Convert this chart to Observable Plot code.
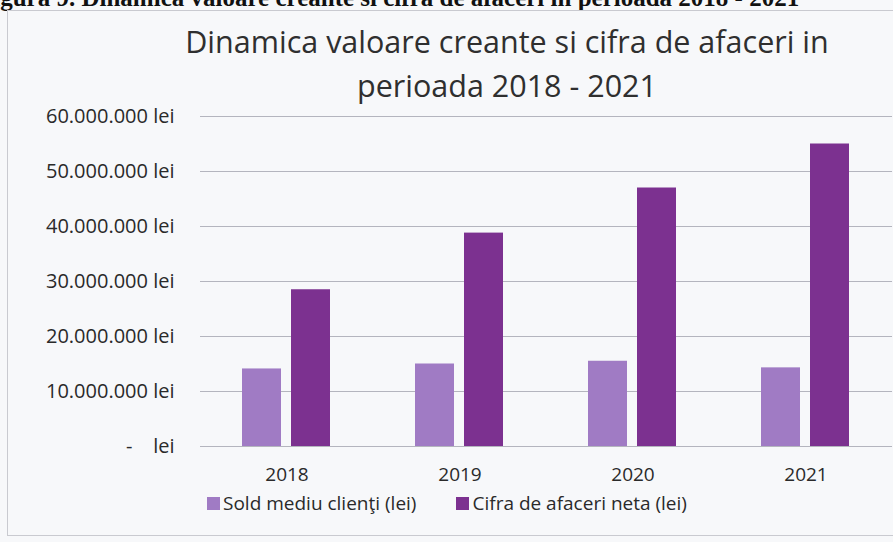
<!DOCTYPE html>
<html>
<head>
<meta charset="utf-8">
<script src="https://cdn.jsdelivr.net/npm/d3@7"></script>
<script src="https://cdn.jsdelivr.net/npm/@observablehq/plot@0.6"></script>
<style>
  html, body { margin: 0; padding: 0; background: #f7f8fa; }
  #wrap { position: relative; width: 893px; height: 542px; overflow: hidden; background: #f7f8fa; }
  #caption { position: absolute; left: -22px; top: -15px; font-family: "Liberation Serif", serif; font-weight: bold; font-size: 25px; line-height: 25px; color: #111; white-space: nowrap; }
  #frame { position: absolute; left: 7px; top: 10px; width: 920px; height: 526px; border: 1px solid #c9cad0; box-sizing: border-box; }
  #title { position: absolute; left: 507px; top: 19px; transform: translateX(-50%); font-family: "Open Sans", sans-serif; font-size: 30.5px; line-height: 44px; color: #2f2f2f; text-align: center; white-space: nowrap; }
  #chart { position: absolute; left: 0; top: 100px; }
  #legend { position: absolute; left: 207px; top: 490px; font-family: "Open Sans", sans-serif; font-size: 19px; color: #2a2a2a; display: flex; gap: 0; white-space: nowrap; }
  .item { display: flex; align-items: center; }
  .sw { width: 13px; height: 13px; display: inline-block; margin-right: 3px; }
</style>
</head>
<body>
<div id="wrap">
  <div id="caption"></div>
  <div id="frame"></div>
  <div id="title"></div>
  <div id="chart"></div>
  <div id="legend"></div>
</div>
<script>
const captionText = "Figura 9. Dinamica valoare creante si cifra de afaceri in perioada 2018 - 2021";
const titleLines = ["Dinamica valoare creante si cifra de afaceri in", "perioada 2018 - 2021"];
const years = ["2018", "2019", "2020", "2021"];
const seriesNames = ["Sold mediu clienţi (lei)", "Cifra de afaceri neta (lei)"];
const soldMediuClienti = [14100000, 15000000, 15500000, 14300000];
const cifraAfaceriNeta = [28500000, 38800000, 47000000, 55000000];
const yTicks = [0, 10000000, 20000000, 30000000, 40000000, 50000000, 60000000];
const seriesColors = ["#a07bc4", "#7c3190"];

document.getElementById("caption").textContent = captionText;
document.getElementById("title").innerHTML = titleLines.map(t => `<div>${t}</div>`).join("");

const data = [];
years.forEach((y, i) => {
  data.push({year: y, series: seriesNames[0], value: soldMediuClienti[i]});
  data.push({year: y, series: seriesNames[1], value: cifraAfaceriNeta[i]});
});

const fmt = d => d === 0 ? "-\u00a0\u00a0\u00a0\u00a0lei" : d3.format(",")(d).replace(/,/g, ".") + " lei";

const chart = Plot.plot({
  width: 893,
  height: 400,
  marginTop: 16,
  marginBottom: 54,
  marginLeft: 199,
  marginRight: 0,
  style: {fontFamily: "Open Sans", fontSize: "19px", color: "#2a2a2a", background: "transparent", overflow: "visible"},
  fx: {domain: years, padding: 0, axis: "bottom", tickSize: 0, tickPadding: 21, label: null},
  x: {domain: seriesNames, axis: null, paddingInner: 0.2, paddingOuter: 0.84},
  y: {domain: [0, 60000000], ticks: yTicks, tickFormat: fmt, tickSize: 0, tickPadding: 26, label: null},
  color: {domain: seriesNames, range: seriesColors},
  marks: [
    Plot.ruleY(yTicks, {stroke: "#b4b5be", strokeWidth: 1.2}),
    Plot.barY(data, {fx: "year", x: "series", y: "value", fill: "series"}),
    Plot.axisY({ticks: yTicks, tickFormat: fmt, tickSize: 0, tickPadding: 26, label: null, fontSize: 20})
  ]
});
document.getElementById("chart").appendChild(chart);

const legend = document.getElementById("legend");
seriesNames.forEach((name, i) => {
  const it = document.createElement("div");
  it.className = "item";
  it.style.marginRight = i === 0 ? "40px" : "0";
  it.innerHTML = `<span class="sw" style="background:${seriesColors[i]}"></span><span>${name}</span>`;
  legend.appendChild(it);
});
</script>
</body>
</html>
